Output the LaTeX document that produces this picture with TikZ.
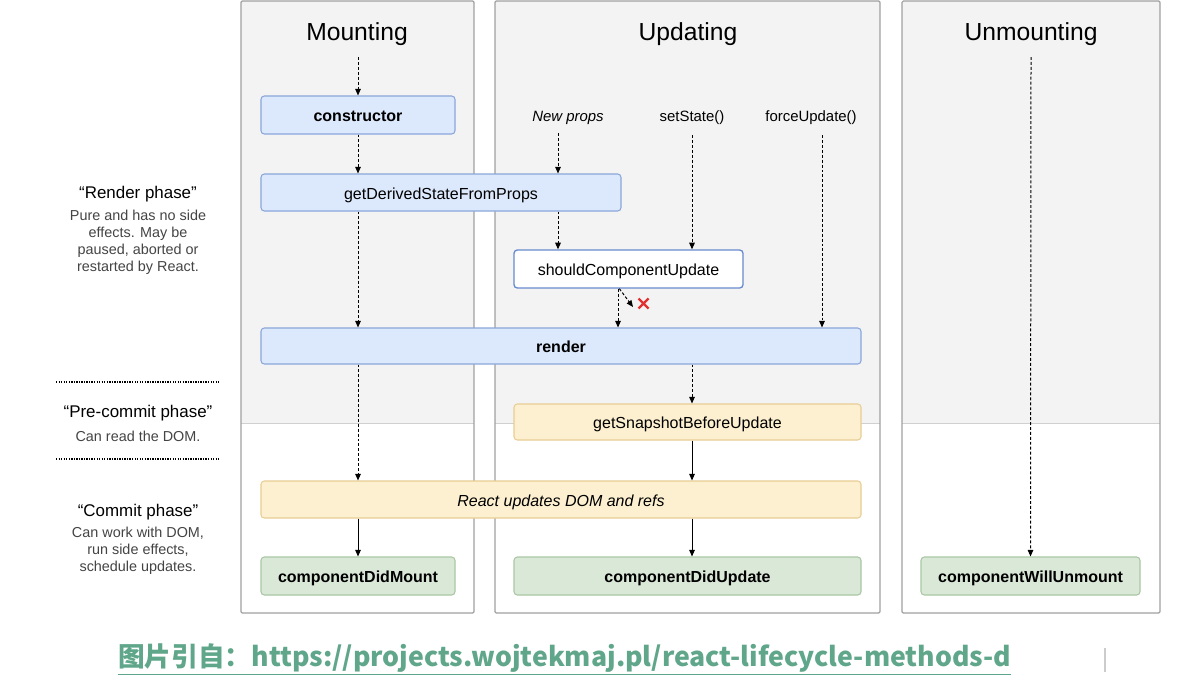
\documentclass[tikz,border=0pt]{standalone}
\usepackage{fontspec}
\setmainfont{Liberation Sans}
\newfontfamily\cjk{Noto Sans CJK SC}
\usepackage{xcolor}
\usetikzlibrary{arrows.meta,positioning}
\definecolor{panelgray}{RGB}{243,243,243}
\definecolor{panelline}{RGB}{160,160,160}
\definecolor{splitline}{RGB}{208,208,208}
\definecolor{bluefill}{RGB}{220,232,251}
\definecolor{blueline}{RGB}{138,166,218}
\definecolor{sculine}{RGB}{104,138,206}
\definecolor{yellowfill}{RGB}{253,240,208}
\definecolor{yellowline}{RGB}{232,205,148}
\definecolor{greenfill}{RGB}{218,232,215}
\definecolor{greenline}{RGB}{170,199,164}
\definecolor{notegray}{RGB}{68,68,68}
\definecolor{capgreen}{RGB}{96,166,138}
\definecolor{crossred}{RGB}{226,48,48}

\begin{document}
\begin{tikzpicture}[x=0.75pt,y=0.75pt,yscale=-1,
  box/.style={rectangle,rounded corners=2.5pt,line width=0.8pt,inner sep=0pt,text height=10pt,text depth=0pt,font=\fontsize{12}{14}\selectfont},
  bluebox/.style={box,fill=bluefill,draw=blueline},
  yellowbox/.style={box,fill=yellowfill,draw=yellowline},
  greenbox/.style={box,fill=greenfill,draw=greenline,font=\fontsize{12}{14}\selectfont\bfseries},
  panel/.style={draw=panelline,line width=0.9pt,rounded corners=1pt},
  title/.style={font=\fontsize{18.5}{22}\selectfont},
  trigger/.style={font=\fontsize{11.2}{13}\selectfont},
  phase/.style={font=\fontsize{12.7}{15}\selectfont,align=center},
  note/.style={font=\fontsize{10.8}{12.75}\selectfont,text=notegray,align=center},
  divider/.style={dash pattern=on 1pt off 0.9pt,line width=1.1pt},
  dasharrow/.style={dash pattern=on 2.2pt off 1.5pt,line width=0.75pt,-{Triangle[length=5pt,width=4.2pt]}},
  solidarrow/.style={line width=0.75pt,-{Triangle[length=5pt,width=4.2pt]}},
]
%set diagram to the size of the reference
\useasboundingbox[fill=white] (0,0) rectangle (1198,679);

%Panels
\fill[panelgray] (241,1) rectangle (474,423);
\fill[panelgray] (495,1) rectangle (880,423);
\fill[panelgray] (902,1) rectangle (1160,423);
\draw[splitline] (241,423) -- (474,423) (495,423) -- (880,423) (902,423) -- (1160,423);
\draw[panel] (241,1) rectangle (474,613);
\draw[panel] (495,1) rectangle (880,613);
\draw[panel] (902,1) rectangle (1160,613);

% Text Node
\node[title] (mounting) at (357,34) {Mounting};
\node[title] (updating) at (688,34) {Updating};
\node[title] (unmounting) at (1031,34) {Unmounting};

% Triggers
\node[trigger] (newprops) at (568,118) {\itshape New props};
\node[trigger] (setstate) at (692,118) {setState()};
\node[trigger] (forceupdate) at (811,118) {forceUpdate()};

% Method boxes
\node[bluebox,minimum width=145.5pt,minimum height=28.5pt,font=\fontsize{12}{14}\selectfont\bfseries] (constructor) at (358,115) {constructor};
\node[bluebox,minimum width=270pt,minimum height=27.75pt] (gdsfp) at (441,192.5) {getDerivedStateFromProps};
\node[box,fill=white,draw=sculine,line width=1pt,minimum width=171.75pt,minimum height=28.5pt] (scu) at (628.5,269) {shouldComponentUpdate};
\node[bluebox,minimum width=450pt,minimum height=27pt,font=\fontsize{12}{14}\selectfont\bfseries] (render) at (561,346) {render};
\node[yellowbox,minimum width=260.25pt,minimum height=27pt] (snapshot) at (687.5,422) {getSnapshotBeforeUpdate};
\node[yellowbox,minimum width=450pt,minimum height=27.75pt] (domrefs) at (561,499.5) {\itshape React updates DOM and refs};
\node[greenbox,minimum width=145.5pt,minimum height=28.5pt] (didmount) at (358,576) {componentDidMount};
\node[greenbox,minimum width=260.25pt,minimum height=28.5pt] (didupdate) at (687.5,576) {componentDidUpdate};
\node[greenbox,minimum width=164.25pt,minimum height=28.5pt] (willunmount) at (1030.5,576) {componentWillUnmount};

% Arrow starts
\coordinate (mstart) at (358,57);
\coordinate (npstart) at (558,133);
\coordinate (ssstart) at (692,135);
\coordinate (fustart) at (822,135);
\coordinate (ustart) at (1031,57);
\coordinate (skip) at (618,0);
\coordinate (nox) at (633,307);

%Mounting arrows
\draw[dasharrow] (mstart) -- (constructor.north);
\draw[dasharrow] (constructor.south) -- (constructor.south |- gdsfp.north);
\draw[dasharrow] (constructor.south |- gdsfp.south) -- (constructor.south |- render.north);
\draw[dasharrow] (constructor.south |- render.south) -- (constructor.south |- domrefs.north);
\draw[solidarrow] (constructor.south |- domrefs.south) -- (didmount.north);

%Updating arrows
\draw[dasharrow] (npstart) -- (npstart |- gdsfp.north);
\draw[dasharrow] (npstart |- gdsfp.south) -- (npstart |- scu.north);
\draw[dasharrow] (ssstart) -- (ssstart |- scu.north);
\draw[dasharrow] (fustart) -- (fustart |- render.north);
\draw[dasharrow] (skip |- scu.south) -- (skip |- render.north);
\draw[dasharrow] ([xshift=1pt]skip |- scu.south) -- (nox);
\draw[dasharrow] (ssstart |- render.south) -- (ssstart |- snapshot.north);
\draw[solidarrow] (ssstart |- snapshot.south) -- (ssstart |- domrefs.north);
\draw[solidarrow] (ssstart |- domrefs.south) -- (ssstart |- didupdate.north);

%Red cross
\draw[crossred,line width=1.7pt] (638.5,298.5) -- (648.5,308.5) (648.5,298.5) -- (638.5,308.5);

%Unmounting arrow
\draw[dasharrow] (ustart) -- (willunmount.north);

% Phases
\node[phase] (renderphase) at (138,194.5) {“Render phase”};
\node[note] (rendernote) at (138,242.5) {Pure and has no side\\effects. May be\\paused, aborted or\\restarted by React.};
\node[phase] (precommit) at (138,413.5) {“Pre-commit phase”};
\node[note] (precommitnote) at (138,436) {Can read the DOM.};
\node[phase] (commitphase) at (138,512.5) {“Commit phase”};
\node[note] (commitnote) at (138,551) {Can work with DOM,\\run side effects,\\schedule updates.};
\draw[divider] (56,382) -- (220,382);
\draw[divider] (56,459) -- (220,459);

% Caption
\node[anchor=west,inner sep=0pt,text=capgreen,font=\cjk\bfseries\fontsize{20}{24}\selectfont] (caption) at (118,659) {\underline{图片引自：https://projects.wojtekmaj.pl/react-lifecycle-methods-d}};
\draw[line width=1.5pt,draw=black!20] (1105,648) -- (1105,672);

\end{tikzpicture}
\end{document}
